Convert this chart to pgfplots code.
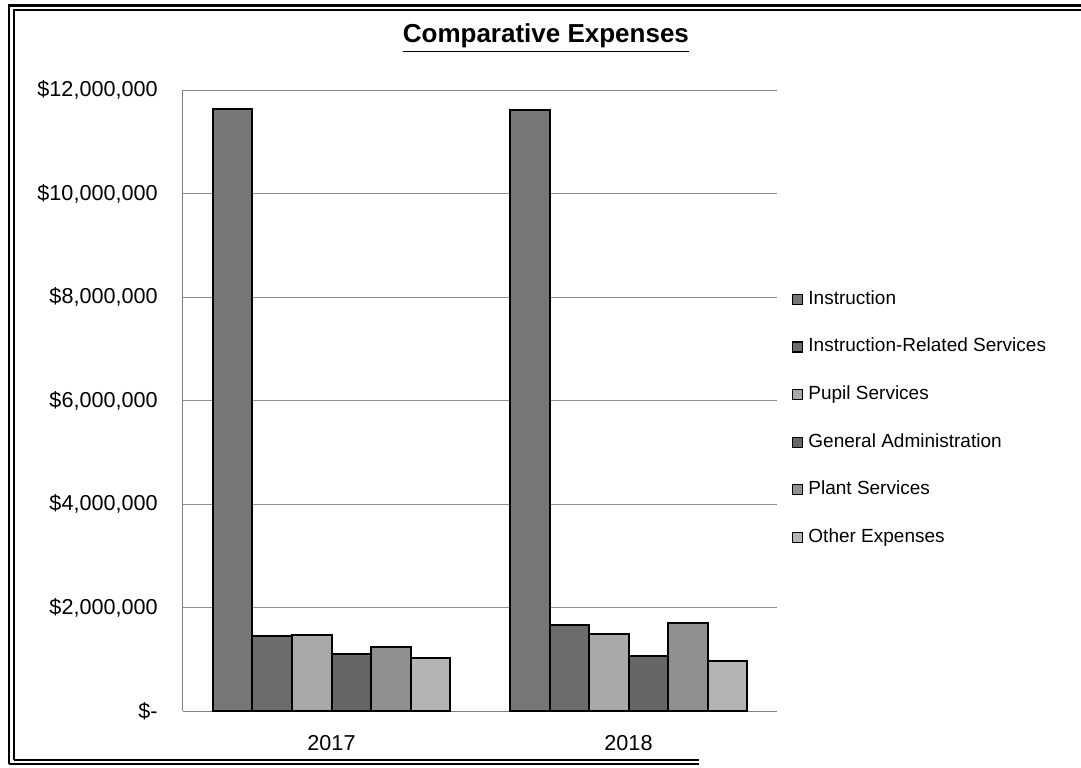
\documentclass[border=0pt]{standalone}
\usepackage{fontspec}
\setmainfont{Liberation Sans}
\usepackage{pgfplots}
\pgfplotsset{compat=1.18}
\definecolor{cInst}{HTML}{767676}
\definecolor{cIRS}{HTML}{6C6C6C}
\definecolor{cPup}{HTML}{A9A9A9}
\definecolor{cGA}{HTML}{666666}
\definecolor{cPlant}{HTML}{909090}
\definecolor{cOther}{HTML}{B4B4B4}
\begin{document}
\begin{tikzpicture}
\useasboundingbox (-91.5pt,-28pt) rectangle (449pt,355.5pt);
% outer frame (double lines)
\draw[line width=1.1pt] (-87pt,-26.5pt) -- (-87pt,352.75pt) -- (449pt,352.75pt);
\draw[line width=0.9pt] (-84.5pt,-24.5pt) -- (-84.5pt,350.5pt) -- (449pt,350.5pt);
\draw[line width=1.1pt] (-87pt,-26.5pt) -- (258pt,-26.5pt);
\draw[line width=0.9pt] (-84.5pt,-24.5pt) -- (258pt,-24.5pt);
\begin{axis}[
  at={(0pt,0pt)}, anchor=south west,
  scale only axis,
  width=297pt, height=310.5pt,
  xmin=-0.5, xmax=1.5,
  ymin=0, ymax=12000000,
  axis lines*=left,
  axis line style={black!50, line width=0.5pt},
  ybar=0pt, bar width=19.75pt,
  xtick={0,1}, xticklabels={2017,2018},
  ytick={0,2000000,4000000,6000000,8000000,10000000,12000000},
  yticklabels={\$-\hspace{2.5pt},{\$2,000,000},{\$4,000,000},{\$6,000,000},{\$8,000,000},{\$10,000,000},{\$12,000,000}},
  scaled y ticks=false,
  major tick length=0pt,
  ymajorgrids,
  grid style={black!45, line width=0.45pt},
  tick label style={font=\fontsize{10.8}{13}\selectfont, inner sep=0pt},
  yticklabel style={xshift=-12.5pt},
  xticklabel style={yshift=-12pt},
  title={\fontsize{13}{15}\selectfont\bfseries\underline{Comparative Expenses}},
  title style={at={(rel axis cs:0.611,1.0564)}, anchor=base, inner sep=0pt},
  legend cell align=left,
  legend image code/.code={\draw[#1, draw=black, line width=0.6pt] (0pt,-2.5pt) rectangle (5pt,2.5pt);},
  legend style={at={(rel axis cs:1.025,0.678)}, anchor=north west, draw=none, fill=none,
    inner sep=0pt, row sep=14.8pt, /tikz/column sep=2.5pt,
    font=\fontsize{9.5}{11}\selectfont,
    nodes={inner sep=0pt, text height=7pt, text depth=2pt}},
  every axis plot/.append style={draw=black, line width=1pt},
]
\addplot[fill=cInst] coordinates {(0,11640000) (1,11610000)};
\addplot[fill=cIRS] coordinates {(0,1445000) (1,1660000)};
\addplot[fill=cPup] coordinates {(0,1470000) (1,1485000)};
\addplot[fill=cGA] coordinates {(0,1095000) (1,1070000)};
\addplot[fill=cPlant] coordinates {(0,1230000) (1,1700000)};
\addplot[fill=cOther] coordinates {(0,1030000) (1,960000)};
\legend{Instruction,Instruction-Related Services,Pupil Services,General Administration,Plant Services,Other Expenses}
\end{axis}
\end{tikzpicture}
\end{document}
